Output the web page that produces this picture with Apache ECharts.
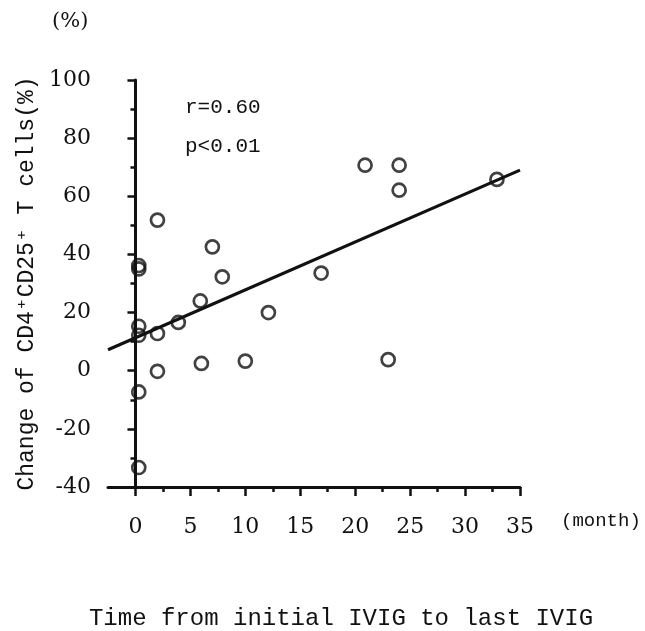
<!DOCTYPE html>
<html>
<head>
<meta charset="utf-8">
<script src="https://cdn.jsdelivr.net/npm/echarts@6/dist/echarts.min.js"></script>
<style>html,body{margin:0;padding:0;background:#fff;}#c{width:645px;height:631px;}</style>
</head>
<body>
<div id="c"></div>
<script>
// Data
const monthsX = [0.3, 0.3, 0.3, 0.3, 0.3, 0.3, 2.0, 2.0, 2.0, 3.9, 5.9, 6.0, 7.0, 7.9, 10.0, 12.1, 16.9, 20.9, 23.0, 24.0, 24.0, 32.9];
const changeY = [-33.3, -7.3, 12.2, 15.3, 35.0, 36.2, 51.8, 12.8, -0.2, 16.6, 24.0, 2.5, 42.6, 32.3, 3.3, 20.0, 33.6, 70.7, 3.8, 70.7, 62.1, 65.8];
const fitX = [-2.5, 35];
const fitY = [7.2, 69.0];
const xTicks = [0, 5, 10, 15, 20, 25, 30, 35];
const xMinorTicks = [2.5, 7.5, 12.5, 17.5, 22.5, 27.5, 32.5];
const statLines = ['r=0.60', 'p<0.01'];

const chart = echarts.init(document.getElementById('c'));
const FONT_SERIF = '"DejaVu Serif", "Liberation Serif", serif';
const FONT_MONO = '"Liberation Mono", "DejaVu Sans Mono", monospace';
const ink = '#111';

const baseX = { type: 'value', min: -2.5, max: 35, position: 'bottom', splitLine: { show: false } };

chart.setOption({
  backgroundColor: '#fff',
  animation: false,
  grid: { left: 108, right: 125, top: 80, bottom: 144, containLabel: false },
  xAxis: [
    Object.assign({}, baseX, {
      axisLine: { show: true, onZero: false, lineStyle: { color: ink, width: 3 } },
      axisTick: { show: false },
      axisLabel: { customValues: xTicks, margin: 29, fontFamily: FONT_SERIF, fontSize: 22, color: ink }
    }),
    Object.assign({}, baseX, {
      axisLine: { show: false, onZero: false },
      axisTick: { show: true, length: 9, customValues: xTicks, lineStyle: { color: ink, width: 2.5 } },
      axisLabel: { show: false }
    }),
    Object.assign({}, baseX, {
      axisLine: { show: false, onZero: false },
      axisTick: { show: true, length: 5, customValues: xMinorTicks, lineStyle: { color: ink, width: 2.5 } },
      axisLabel: { show: false }
    })
  ],
  yAxis: {
    type: 'value', min: -40, max: 100, interval: 20,
    name: 'Change of CD4\u207ACD25\u207A T cells(%)',
    nameLocation: 'middle', nameGap: 70, nameRotate: 90,
    nameTextStyle: { fontFamily: FONT_MONO, fontSize: 23, color: ink },
    axisLine: { show: true, lineStyle: { color: ink, width: 3 } },
    axisTick: { show: true, length: 8, lineStyle: { color: ink, width: 2.5 } },
    minorTick: { show: true, splitNumber: 2, length: 5, lineStyle: { color: ink, width: 2.5 } },
    axisLabel: { margin: 17, fontFamily: FONT_SERIF, fontSize: 22, color: ink },
    splitLine: { show: false }
  },
  graphic: [
    { type: 'text', left: 52, top: 11, style: { text: '(%)', font: '21px ' + FONT_SERIF, fill: ink } },
    { type: 'text', left: 561, top: 511, style: { text: '(month)', font: '19px ' + FONT_MONO, fill: ink } },
    { type: 'text', left: 185, top: 97, style: { text: statLines[0], font: '21px ' + FONT_MONO, fill: ink } },
    { type: 'text', left: 185, top: 136, style: { text: statLines[1], font: '21px ' + FONT_MONO, fill: ink } },
    { type: 'text', x: 341, y: 619, style: { text: 'Time from initial IVIG to last IVIG', font: '24px ' + FONT_MONO, fill: ink, align: 'center', verticalAlign: 'middle' } }
  ],
  series: [{
    type: 'scatter',
    data: monthsX.map((x, i) => [x, changeY[i]]),
    symbol: 'circle', symbolSize: 13,
    itemStyle: { color: 'rgba(0,0,0,0)', borderColor: ink, borderWidth: 2.7 },
    z: 3
  }, {
    type: 'line',
    data: fitX.map((x, i) => [x, fitY[i]]),
    showSymbol: false, symbol: 'none',
    lineStyle: { color: ink, width: 3.2 },
    z: 4
  }]
});
</script>
</body>
</html>
